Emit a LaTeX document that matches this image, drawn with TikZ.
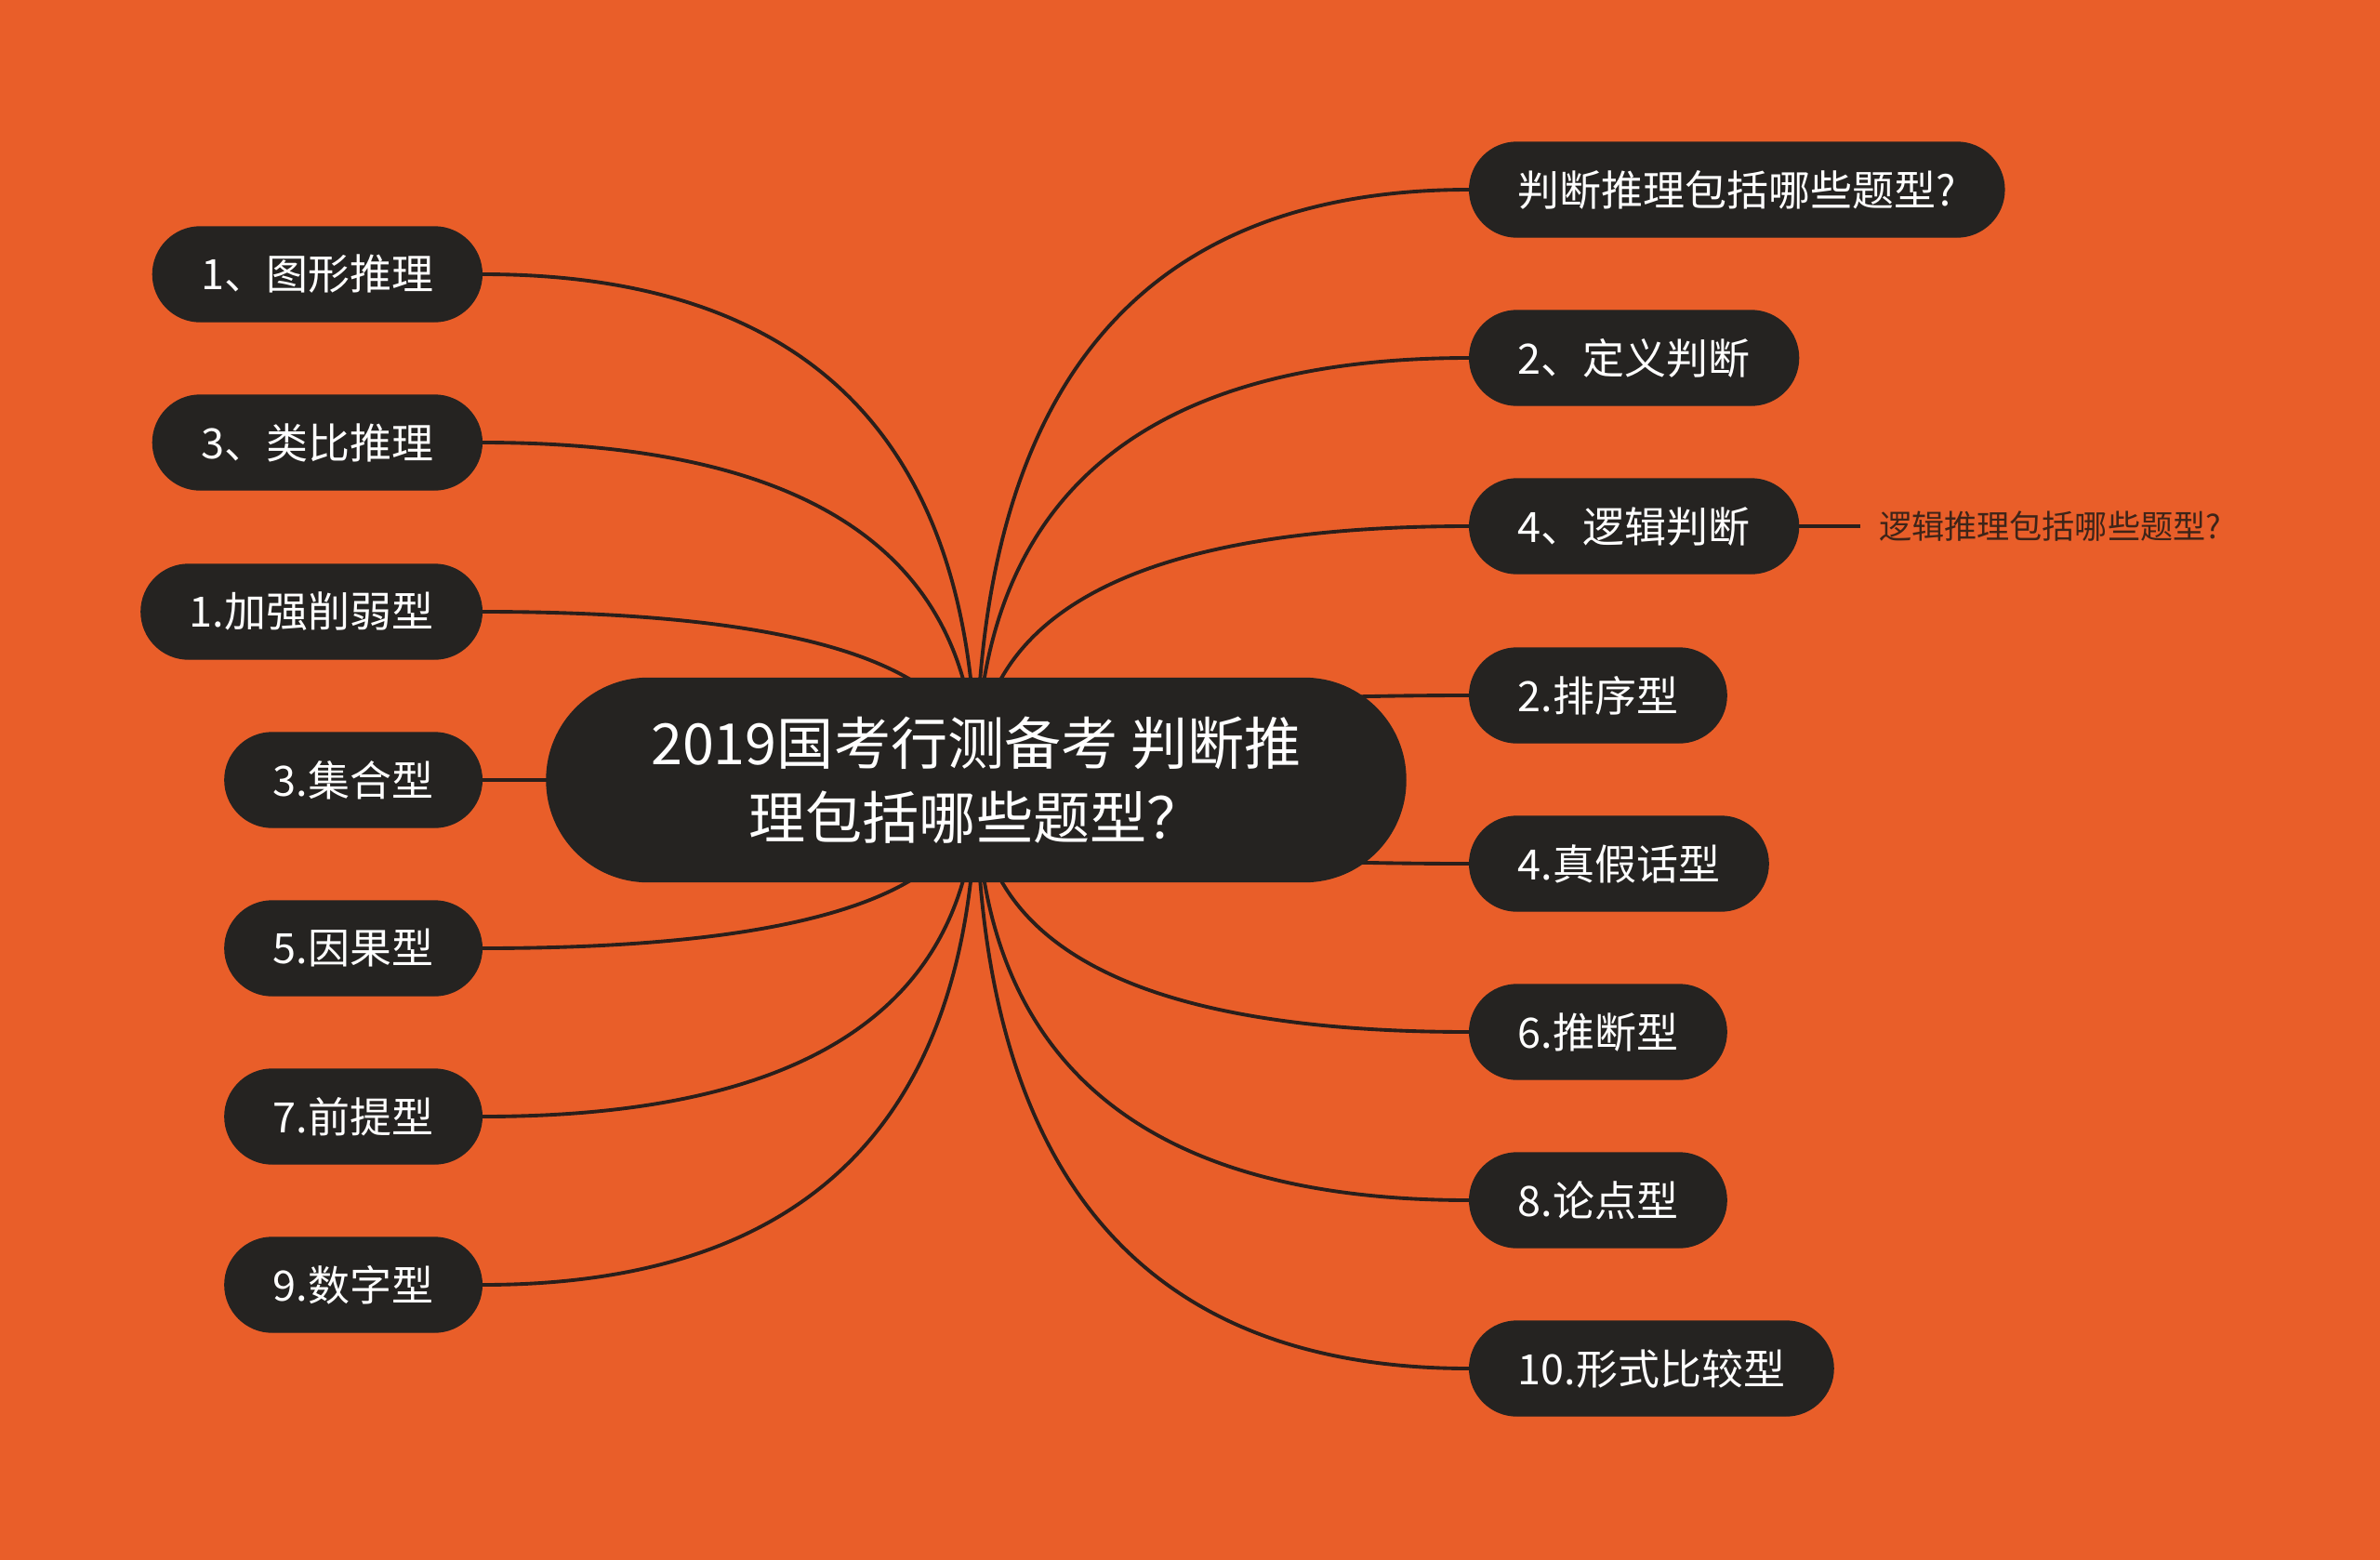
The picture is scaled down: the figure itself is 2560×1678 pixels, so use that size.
\documentclass[tikz,border=0pt]{standalone}
\usepackage{fontspec}
\setmainfont{Noto Sans CJK SC}
\usepackage{tikz}
\usetikzlibrary{positioning, calc}
\definecolor{MapOrange}{HTML}{E95E29}
\definecolor{PillDark}{HTML}{252321}
\definecolor{LineDark}{HTML}{2A1F1B}
\definecolor{NoteBrown}{HTML}{3E2418}
\tikzset{
  % Box styles
  rootbox/.style={rectangle, rounded corners=10.9mm, draw=PillDark, fill=PillDark, text=white, minimum width=92.4mm, minimum height=21.9mm, font=\fontsize{17.4}{22.8}\selectfont, align=center},
  topicbox/.style={rectangle, rounded corners=5.1mm, draw=PillDark, fill=PillDark, text=white, minimum height=10.2mm, inner xsep=5.2mm, font=\fontsize{12.8}{15}\selectfont},
  notetext/.style={font=\fontsize{10}{12}\selectfont, text=NoteBrown, inner xsep=1.9mm},
  % Line styles
  branch/.style={line width=1.1pt, LineDark}
}

\begin{document}
\begin{tikzpicture}[x=0.1mm, y=-0.1mm]
  % Background
  \fill[MapOrange] (0,0) rectangle (2560,1678);
  \coordinate (hub) at (1050,839);

  % Left topics
  \foreach \y/\txt [count=\i] in {295/1、图形推理, 476/3、类比推理, 658/1.加强削弱型, 839/3.集合型, 1020/5.因果型, 1201/7.前提型, 1382/9.数字型} {
    \node[topicbox, anchor=east] (l\i) at (519,\y) {\txt};
  }

  % Right topics
  \foreach \y/\txt [count=\i] in {204/判断推理包括哪些题型?, 385/2、定义判断, 566/4、逻辑判断, 748/2.排序型, 929/4.真假话型, 1110/6.推断型, 1291/8.论点型, 1472/10.形式比较型} {
    \node[topicbox, anchor=west] (r\i) at (1580,\y) {\txt};
  }

  % Branches
  \foreach \i in {1,...,7}
    \draw[branch] (hub) .. controls ($(hub)!2/3!(hub |- l\i.east)$) and ($(l\i.east)!2/3!(hub |- l\i.east)$) .. (l\i.east);
  \foreach \i in {1,...,8}
    \draw[branch] (hub) .. controls ($(hub)!2/3!(hub |- r\i.west)$) and ($(r\i.west)!2/3!(hub |- r\i.west)$) .. (r\i.west);

  % Note
  \node[notetext, anchor=west, right=6.6mm of r3] (note) {逻辑推理包括哪些题型?};
  \draw[branch] (r3.east) -- (note.west);

  % Root
  \node[rootbox] (root) at (hub) {2019国考行测备考 判断推\\理包括哪些题型？};
\end{tikzpicture}
\end{document}
